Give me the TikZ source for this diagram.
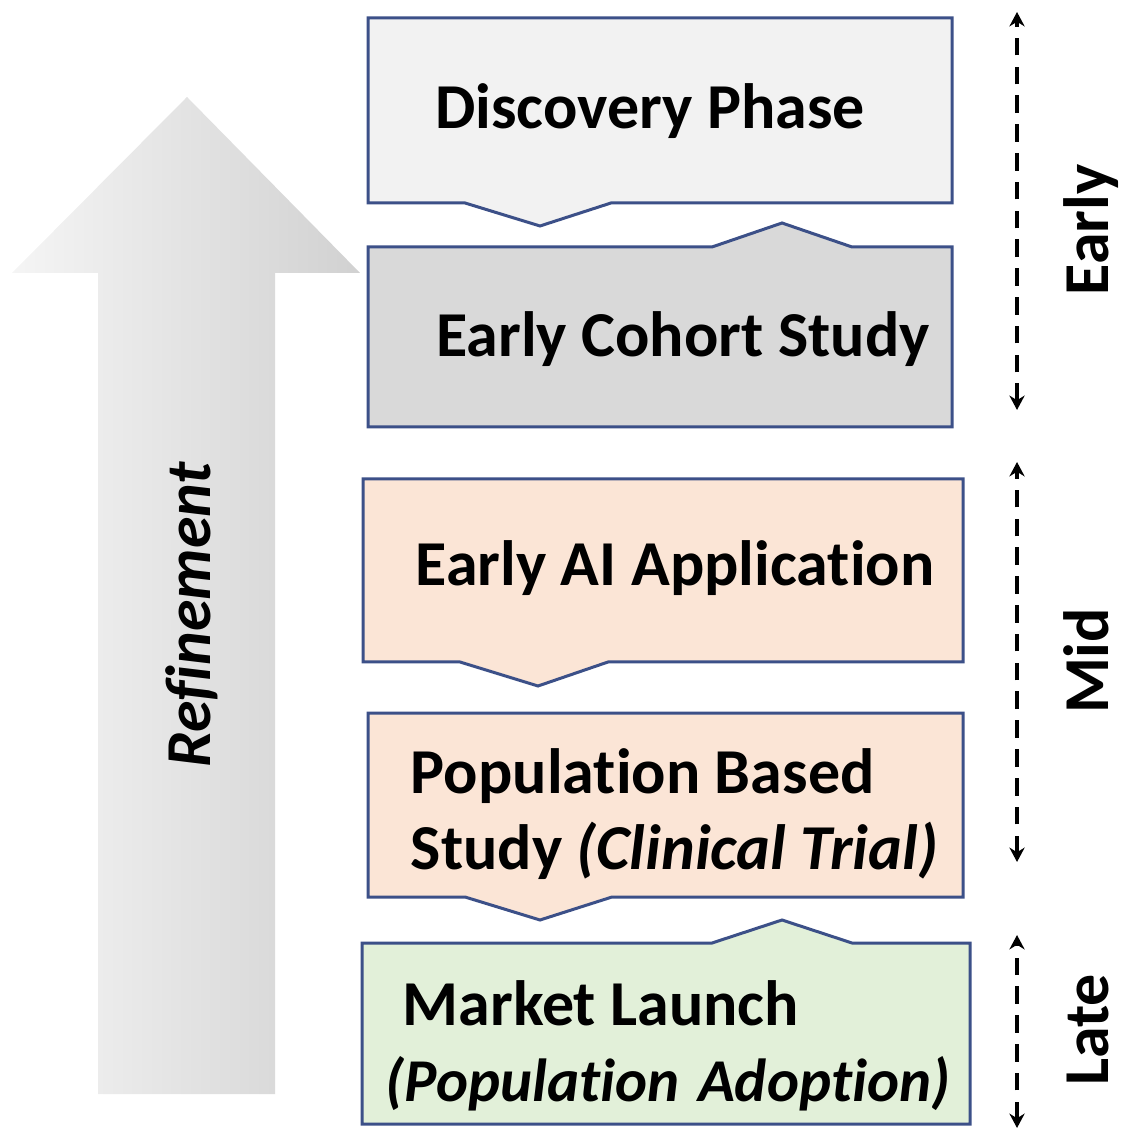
\documentclass[tikz,border=0pt]{standalone}
\usepackage{fontspec}
\setmainfont{Carlito}[Ligatures=NoCommon]
\usetikzlibrary{arrows.meta}
\definecolor{edgeblue}{HTML}{3C5088}
\definecolor{phasegray}{HTML}{F2F2F2}
\definecolor{cohortgray}{HTML}{D9D9D9}
\definecolor{midpeach}{HTML}{FBE5D6}
\definecolor{lategreen}{HTML}{E2F0D9}
\begin{document}
\begin{tikzpicture}[x=0.25pt,y=-0.25pt,
  stagebox/.style={draw=edgeblue,line width=0.75pt,line join=miter},
  stagetext/.style={font=\bfseries\fontsize{16}{19.3}\selectfont,inner sep=0pt},
  phasetext/.style={font=\bfseries\fontsize{16}{19.3}\selectfont,inner sep=0pt,rotate=90,anchor=base},
  spanarrow/.style={line width=0.9pt,dash pattern=on 4.4pt off 2.8pt,
    {Stealth[length=3.6pt,width=3.8pt]}-{Stealth[length=3.6pt,width=3.8pt]}}]
\useasboundingbox (0,0) rectangle (1130,1130);

% large refinement arrow with a horizontal grey shading
\shade[left color=white!96!black,right color=white!82!black]
  (98,1094) -- (98,273) -- (12,273) -- (187,97) -- (360,273) -- (275,273) -- (275,1094) -- cycle;
\node[phasetext,font=\bfseries\itshape\fontsize{16}{19.3}\selectfont] (refine) at (210,615) {Refinement};

% stage boxes with their notches
\path[stagebox,fill=phasegray]
  (368,18) -- (952,18) -- (952,203) -- (611,203) -- (540,226) -- (465,203) -- (368,203) -- cycle;
\path[stagebox,fill=cohortgray]
  (368,247) -- (712,247) -- (782,223) -- (852,247) -- (952,247) -- (952,427) -- (368,427) -- cycle;
\path[stagebox,fill=midpeach]
  (363,479) -- (963,479) -- (963,662) -- (608,662) -- (538,686) -- (460,662) -- (363,662) -- cycle;
\path[stagebox,fill=midpeach]
  (368,713) -- (963,713) -- (963,897) -- (612,897) -- (540,920) -- (465,897) -- (368,897) -- cycle;
\path[stagebox,fill=lategreen]
  (362,943) -- (712,943) -- (782,920) -- (852,943) -- (970,943) -- (970,1124) -- (362,1124) -- cycle;

% stage labels
\node[stagetext,anchor=base] (discovery) at (650,129) {Discovery Phase};
\node[stagetext,anchor=base] (cohort) at (683,357) {Early Cohort Study};
\node[stagetext,anchor=base] (aiapp) at (675,586) {Early AI Application};
\node[stagetext,anchor=base west] (popstudy) at (410,793) {Population Based};
\node[stagetext,anchor=base west] (trial) at (410,869) {Study \textit{(Clinical Trial)}};
\node[stagetext,anchor=base west] (launch) at (402,1025) {Market Launch};
\node[stagetext,anchor=base west,font=\bfseries\itshape\fontsize{15.2}{19}\selectfont] (adoption) at (385,1101) {(Population\hspace{0.08em} Adoption)};

% time spans on the right
\coordinate (earlytop) at (1017,12);
\coordinate (earlybot) at (1017,410);
\coordinate (midtop) at (1017,462);
\coordinate (midbot) at (1017,862);
\coordinate (latetop) at (1017,935);
\coordinate (latebot) at (1017,1128);
\draw[spanarrow] (earlybot) -- (earlytop);
\draw[spanarrow] (midbot) -- (midtop);
\draw[spanarrow] (latebot) -- (latetop);

\node[phasetext] (early) at (1108,230) {Early};
\node[phasetext] (mid) at (1108,661) {Mid};
\node[phasetext] (late) at (1108,1030) {Late};
\end{tikzpicture}
\end{document}
